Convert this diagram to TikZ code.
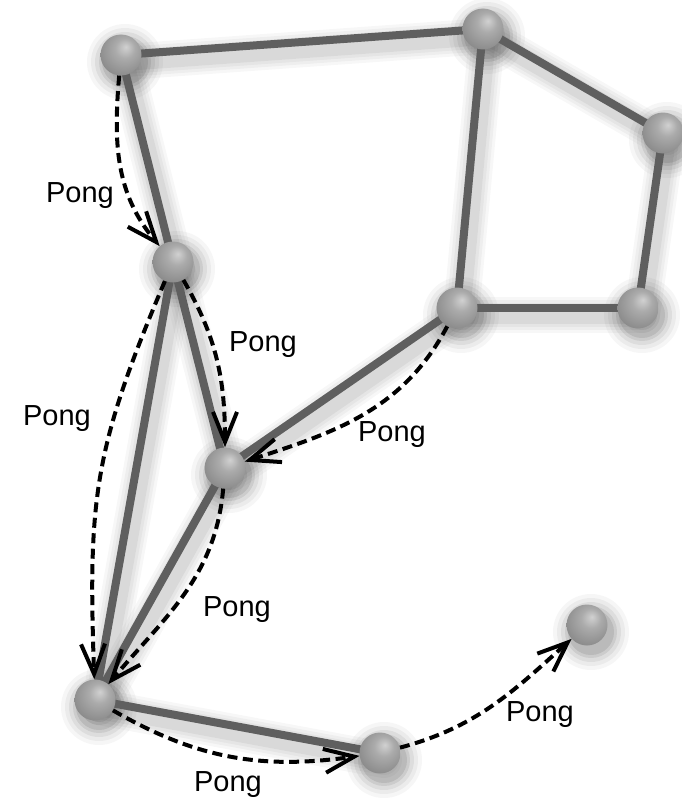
\documentclass[tikz,border=0pt]{standalone}
\usepackage{fontspec}
\setmainfont{Liberation Sans}
\usetikzlibrary{arrows.meta,backgrounds}
\definecolor{edgegray}{HTML}{5F5F5F}
\pgfdeclareradialshading{sphereshade}{\pgfpoint{6bp}{10bp}}{%
  color(0bp)=(black!18);
  color(12bp)=(black!33);
  color(30bp)=(black!45);
  color(48bp)=(black!55);
  color(60bp)=(black!60)}
\begin{document}
\begin{tikzpicture}[x=1pt,y=1pt,
  ball/.style={circle, minimum size=41pt, inner sep=0pt, shading=sphereshade},
  edgeline/.style={line width=8pt, draw=edgegray},
  pong/.style={line width=4pt, dash pattern=on 10pt off 5.5pt, -{Straight Barb[length=30pt,width=24pt,line width=4pt]}},
  lbl/.style={font=\fontsize{29}{32}\selectfont, inner sep=0pt}]
\useasboundingbox (0,0) rectangle (681,-800);
% spheres
\node[ball] (A) at (121,-55) {};
\node[ball] (B) at (483,-29) {};
\node[ball] (C) at (663,-133) {};
\node[ball] (D) at (638,-308) {};
\node[ball] (E) at (457,-308) {};
\node[ball] (F) at (173,-262) {};
\node[ball] (G) at (225,-468) {};
\node[ball] (H) at (95,-700) {};
\node[ball] (I) at (380,-753) {};
\node[ball] (J) at (587,-625) {};
\begin{scope}[on background layer]
  \foreach \u/\v in {A/B,B/C,C/D,D/E,E/B,A/F,F/G,F/H,G/E,G/H,H/I} {
    \foreach \w/\o in {36/0.03,30/0.035,24/0.04,18/0.05} {
      \draw[line width=\w pt, black, opacity=\o, line cap=round] ([shift={(4,-7)}]\u.center) -- ([shift={(4,-7)}]\v.center);
    }
  }
  \foreach \n in {A,B,C,D,E,F,G,H,I,J} {
    \foreach \r/\o in {38/0.035,34/0.045,30/0.06,26/0.08,23/0.09} {
      \fill[black, opacity=\o] ([shift={(4,-7)}]\n.center) circle (\r);
    }
  }
  \draw[edgeline] (A.center) -- (B.center);
  \draw[edgeline] (B.center) -- (C.center);
  \draw[edgeline] (C.center) -- (D.center);
  \draw[edgeline] (D.center) -- (E.center);
  \draw[edgeline] (E.center) -- (B.center);
  \draw[edgeline] (A.center) -- (F.center);
  \draw[edgeline] (F.center) -- (G.center);
  \draw[edgeline] (F.center) -- (H.center);
  \draw[edgeline] (G.center) -- (E.center);
  \draw[edgeline] (G.center) -- (H.center);
  \draw[edgeline] (H.center) -- (I.center);
\end{scope}
% dashed messages
\draw[pong] (A) to[out=-95, in=130] (F);
\draw[pong] (F) to[out=-60, in=90] (G);
\draw[pong] (F) to[out=-113, in=92, looseness=1.15] (H);
\draw[pong] (E) to[out=-118, in=18] (G);
\draw[pong] (G) to[out=-95, in=50] (H);
\draw[pong] (H) to[out=-30, in=188] (I);
\draw[pong] (I) to[out=15, in=-138] (J);
% labels
\node[lbl] (L1) at (80,-196) {Pong};
\node[lbl] (L2) at (263,-345) {Pong};
\node[lbl] (L3) at (57,-419) {Pong};
\node[lbl] (L4) at (392,-435) {Pong};
\node[lbl] (L5) at (237,-610) {Pong};
\node[lbl] (L6) at (228,-785) {Pong};
\node[lbl] (L7) at (540,-715) {Pong};
\end{tikzpicture}
\end{document}
